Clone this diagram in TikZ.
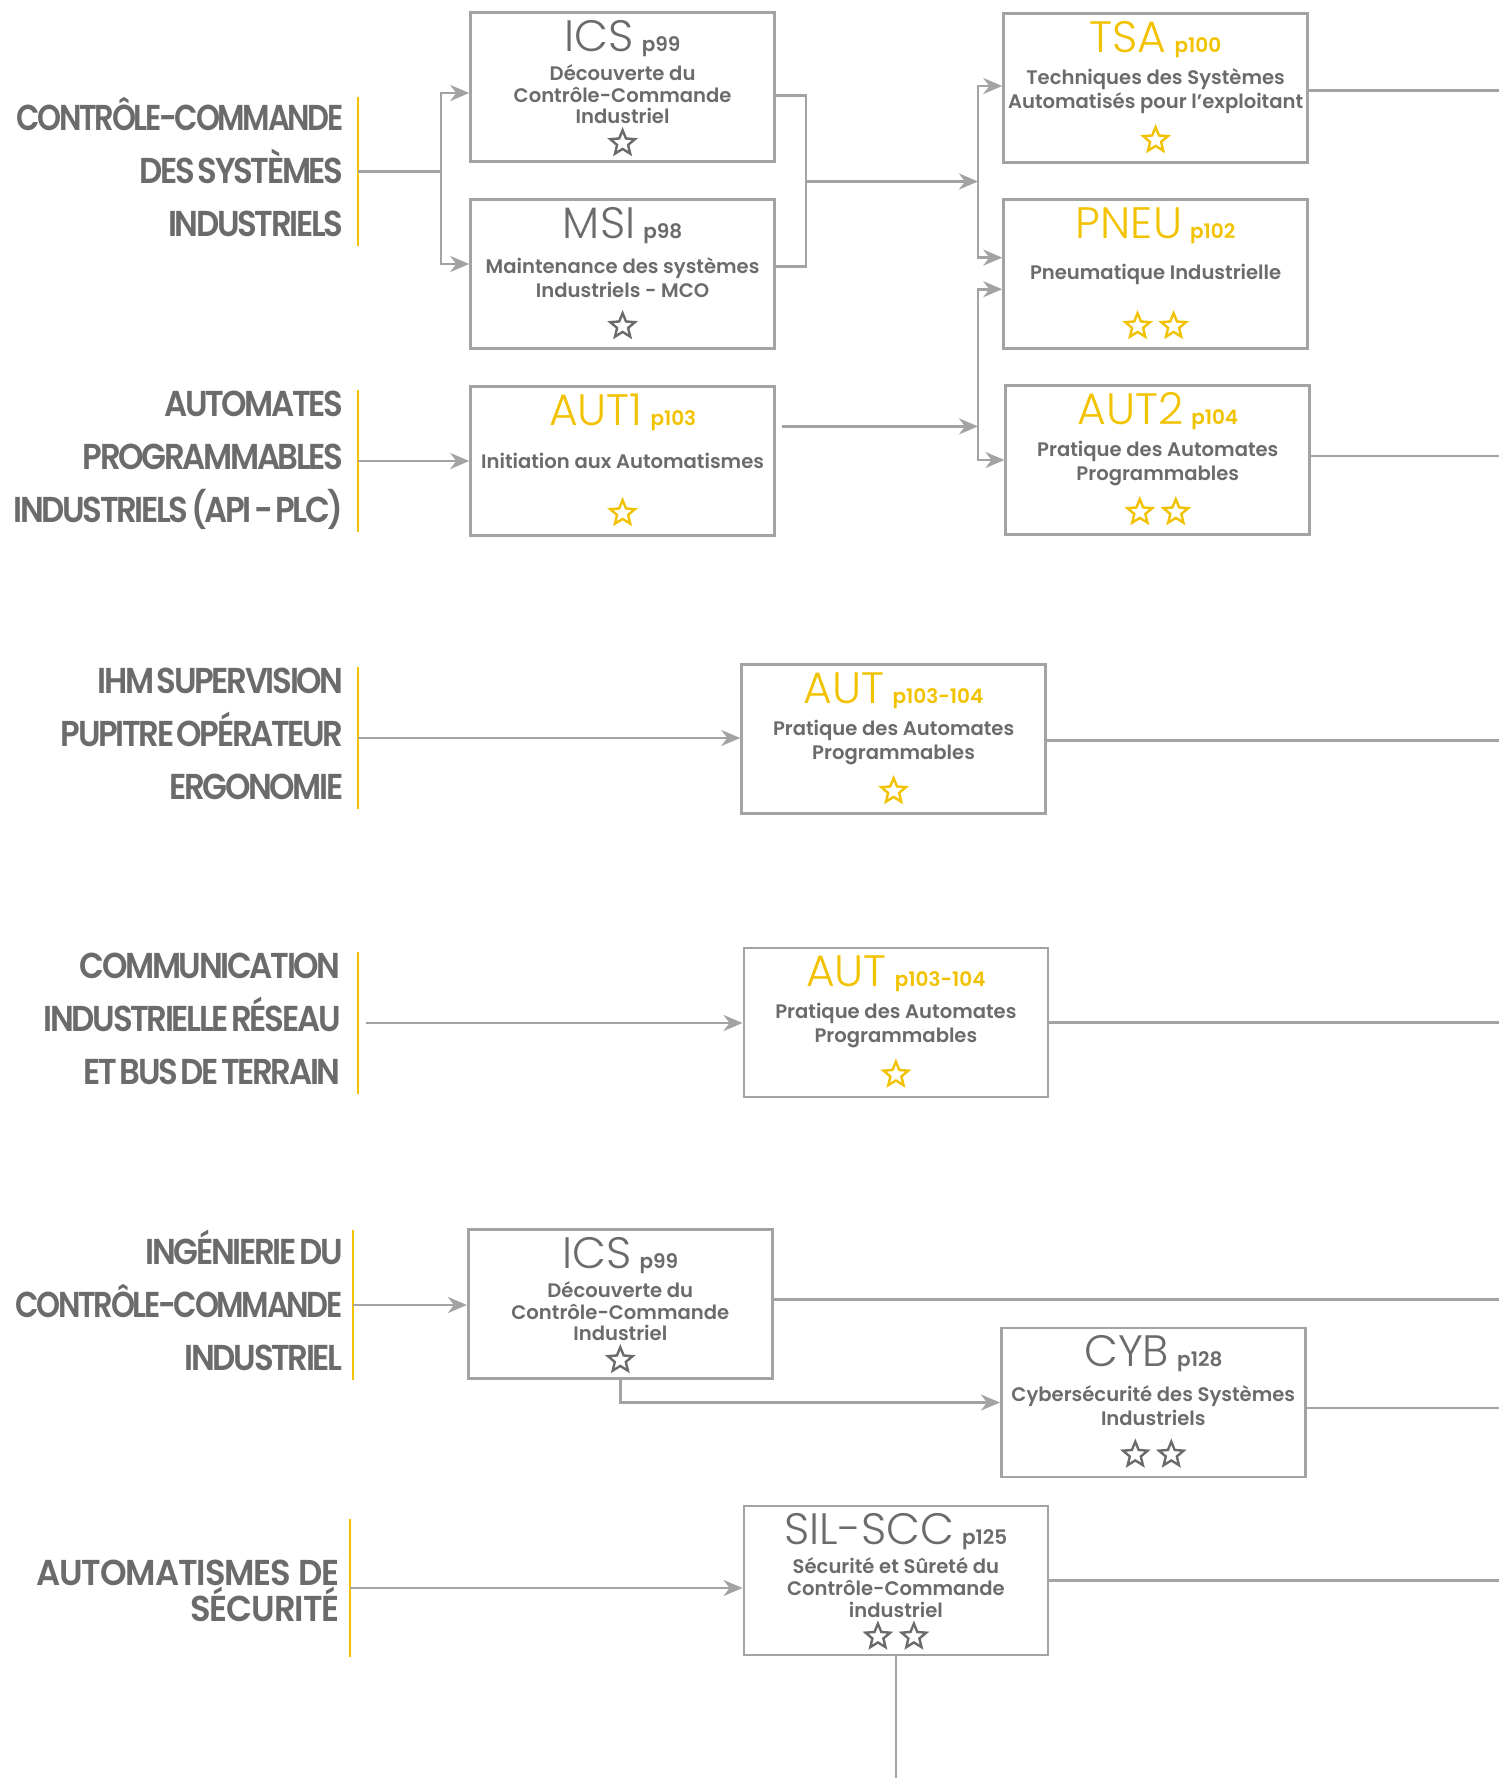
\documentclass[tikz,border=0pt]{standalone}
\usepackage{fontspec}
\setmainfont{Poppins}
\newfontfamily\catfont[FakeStretch=0.9, LetterSpace=-6.5, WordSpace=0.45]{Poppins SemiBold}
\newfontfamily\catnarrow[FakeStretch=0.85, LetterSpace=-6.5]{Poppins SemiBold}
\newfontfamily\secfont[FakeStretch=0.94, LetterSpace=-3]{Poppins SemiBold}
\newfontfamily\codefont{Poppins Light}
\newfontfamily\descfont{Poppins SemiBold}
\usetikzlibrary{arrows.meta,positioning,shapes.geometric}

\definecolor{txtgrey}{HTML}{6B6B6B}
\definecolor{boxgrey}{HTML}{A3A3A3}
\definecolor{gold}{HTML}{F2C200}

\tikzstyle{box} = [rectangle, draw=boxgrey, line width=1.35pt, minimum width=152pt, minimum height=74.5pt, inner sep=0pt]
\tikzstyle{code} = [inner sep=0pt, anchor=base, font=\codefont\fontsize{22}{22}\selectfont]
\tikzstyle{desc} = [inner sep=0pt, align=center, text=txtgrey, font=\descfont\fontsize{9.8}{12}\selectfont]
\tikzstyle{staricon} = [star, star points=5, star point ratio=2.25, minimum size=13pt, inner sep=0pt, line width=1.2pt, fill=white]
\tikzstyle{cat} = [anchor=east, align=right, inner xsep=7pt, inner ysep=0pt, minimum height=69pt, text=txtgrey, font=\catfont\fontsize{18}{26.5}\selectfont, execute at end node={\rule[-4.5pt]{0pt}{0pt}}]
\tikzstyle{bar} = [draw=gold, line width=1.3pt]
\tikzstyle{arrow} = [draw=boxgrey, line width=1.35pt, -{Stealth[length=9.5pt, width=8pt, inset=3pt]}]
\tikzstyle{line} = [draw=boxgrey, line width=1.35pt]

% box, title, description, stars
\newcommand{\formation}[9]{%
    \node[box] (#1) at (#2) {};
    \node[code, text=#7] (#1-code) at ([yshift=-20pt]#1.north) {#3\hspace{4pt}{\descfont\fontsize{10}{10}\selectfont #4}};
    \node[desc] (#1-desc) at ([yshift=-#8]#1.north) {#5};
    \foreach \s [count=\i] in {#6}
        \node[staricon, draw=#7] (#1-star\i) at ([xshift=\s pt, yshift=-#9]#1.north) {};
}

\begin{document}
\begin{tikzpicture}[x=0.5pt, y=-0.5pt]
    \useasboundingbox (0,0) rectangle (1499,1778);
    \coordinate (edge) at (1499,0);
    \coordinate (bottom) at (0,1778);

    % formations
    \formation{ics1}{622.6,87}{ICS}{p99}{Découverte du\\[-1.2pt]Contrôle-Commande\\[-1.2pt]Industriel}{0}{txtgrey}{41.5pt}{66pt}
    \formation{msi}{622.6,274}{MSI}{p98}{Maintenance des systèmes\\Industriels - MCO}{0}{txtgrey}{39.5pt}{64pt}
    \formation{aut1}{622.6,461}{AUT1}{p103}{Initiation aux Automatismes}{0}{gold}{38pt}{64pt}
    \formation{tsa}{1155.6,88}{TSA}{p100}{Techniques des Systèmes\\Automatisés pour l’exploitant}{0}{gold}{39.5pt}{64pt}
    \formation{pneu}{1155.6,274}{PNEU}{p102}{Pneumatique Industrielle}{-9,9}{gold}{38pt}{64pt}
    \formation{aut2}{1157.8,460}{AUT2}{p104}{Pratique des Automates\\Programmables}{-9,9}{gold}{39.5pt}{64pt}
    \formation{autA}{893.6,739}{AUT}{p103-104}{Pratique des Automates\\Programmables}{0}{gold}{39.5pt}{64pt}
    \formation{autB}{895.9,1022.5}{AUT}{p103-104}{Pratique des Automates\\Programmables}{0}{gold}{39.5pt}{64pt}
    \formation{ics2}{620.3,1304}{ICS}{p99}{Découverte du\\[-1.2pt]Contrôle-Commande\\[-1.2pt]Industriel}{0}{txtgrey}{41.5pt}{66pt}
    \formation{cyb}{1153.3,1402.5}{CYB}{p128}{Cybersécurité des Systèmes\\Industriels}{-9,9}{txtgrey}{39.5pt}{64pt}
    \formation{sil}{895.9,1580.5}{SIL-SCC}{p125}{Sécurité et Sûreté du\\[-1.2pt]Contrôle-Commande\\[-1.2pt]industriel}{-9,9}{txtgrey}{41.5pt}{66pt}

    % domains
    \node[cat] (cat1) at (358,171.5) {{\catnarrow CONTRÔLE-COMMANDE}\\DES SYSTÈMES\\INDUSTRIELS};
    \node[cat] (cat2) at (358,461) {AUTOMATES\\PROGRAMMABLES\\INDUSTRIELS (API - PLC)};
    \node[cat] (cat3) at (358,738) {IHM SUPERVISION\\PUPITRE OPÉRATEUR\\ERGONOMIE};
    \node[cat, inner xsep=8.5pt] (cat4) at (358,1023) {COMMUNICATION\\INDUSTRIELLE RÉSEAU\\ET BUS DE TERRAIN};
    \node[cat, inner xsep=5pt] (cat5) at (353,1305) {INGÉNIERIE DU\\{\catnarrow CONTRÔLE-COMMANDE}\\INDUSTRIEL};
    \node[cat, inner xsep=5pt, font=\secfont\fontsize{18}{18}\selectfont, execute at end node={}] (cat6) at (350,1588) {\rule{0pt}{20pt}AUTOMATISMES DE\\SÉCURITÉ};
    \foreach \c in {cat1,cat2,cat3,cat4,cat5,cat6}
        \draw[bar] (\c.north east) -- (\c.south east);

    % lines
    \coordinate (f1) at (441,171.5);
    \draw[line] (cat1.east) -- (f1);
    \draw[arrow] (f1) |- ([yshift=-3pt]ics1.west);
    \draw[arrow] (f1) |- ([yshift=5pt]msi.west);
    \coordinate (m1) at (806,181.5);
    \draw[line] ([yshift=-4.25pt]ics1.east) -| (m1) |- ([yshift=3.7pt]msi.east);
    \coordinate (j1) at (978,181.5);
    \draw[arrow] (m1) -- (j1);
    \draw[arrow] (j1) |- ([yshift=1pt]tsa.west);
    \draw[arrow] (j1) |- ([yshift=8.2pt]pneu.west);

    \draw[arrow] (cat2.east) -- (cat2.east -| aut1.west);
    \coordinate (a1) at ([xshift=3pt, yshift=17.3pt]aut1.east);
    \coordinate (j2) at (978,426.4);
    \draw[arrow] (a1) -- (j2);
    \draw[arrow] (j2) |- ([yshift=-7.6pt]pneu.west);
    \draw[arrow] (j2) |- (aut2.west);

    \draw[arrow] (cat3.east) -- (cat3.east -| autA.west);
    \draw[arrow] ([xshift=4pt]cat4.east) -- (cat4.east -| autB.west);
    \draw[arrow] (cat5.east) -- (cat5.east -| ics2.west);
    \draw[arrow] (ics2.south) |- (cyb.west);
    \draw[arrow] (cat6.east) -- (cat6.east -| sil.west);

    % to the next page
    \foreach \b/\dy in {tsa/-1.4, aut2/2, autA/-0.8, autB/0, ics2/2.2, cyb/-2.8, sil/0} {
        \coordinate (\b-out) at ([yshift=\dy pt]\b.east);
        \draw[line] (\b-out) -- (\b-out -| edge);
    }
    \draw[line, line width=0.8pt] (sil.south) -- (sil.south |- bottom);
\end{tikzpicture}
\end{document}
